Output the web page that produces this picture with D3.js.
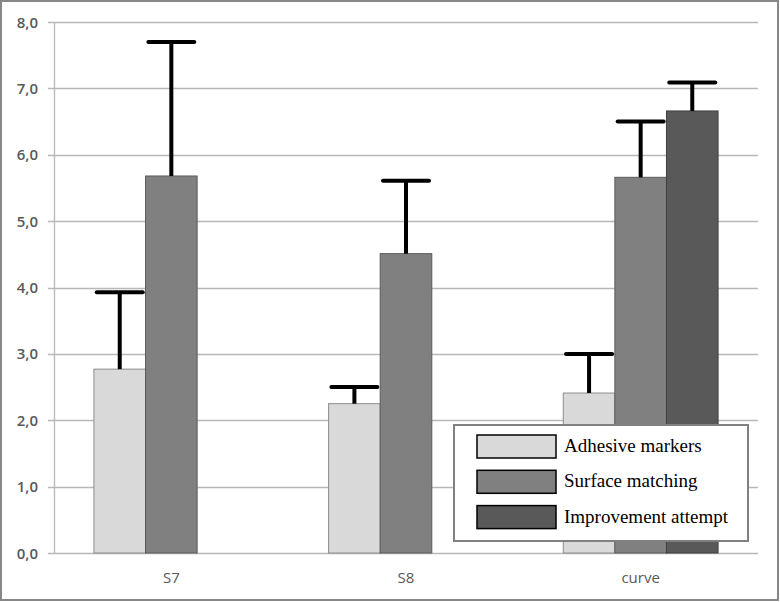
<!DOCTYPE html>
<html><head><meta charset="utf-8">
<script src="https://cdn.jsdelivr.net/npm/d3@7"></script>
<style>body{margin:0;background:#fff}svg{display:block}</style>
</head><body>
<script>
const categories = ["S7", "S8", "curve"];
const series = ["Adhesive markers", "Surface matching", "Improvement attempt"];
const adhesive = [2.77, 2.25, 2.41];
const adhesiveErr = [1.16, 0.25, 0.59];
const surface = [5.68, 4.51, 5.66];
const surfaceErr = [2.02, 1.10, 0.84];
const improvement = [null, null, 6.66];
const improvementErr = [null, null, 0.43];
const yTicks = [0, 1, 2, 3, 4, 5, 6, 7, 8];
const colors = ["#d9d9d9", "#808080", "#595959"];
const strokes = ["#8c8c8c", "#5a5a5a", "#404040"];

const W = 780, H = 602;
const m = {left: 54, right: 22, top: 22, bottom: 49};
const svg = d3.select("body").append("svg").attr("width", W).attr("height", H);
svg.append("rect").attr("x", 1).attr("y", 1).attr("width", W - 3).attr("height", H - 3)
  .attr("fill", "#fff").attr("stroke", "#878787").attr("stroke-width", 2);

const y = d3.scaleLinear().domain([0, 8]).range([H - m.bottom, m.top]);
const x0 = d3.scaleBand().domain(categories).range([m.left, W - m.right]).padding(0);
const x1 = d3.scaleBand().domain(series).range([0, x0.bandwidth()]).paddingInner(0).paddingOuter(0.774);

// gridlines
svg.append("g").selectAll("line").data(yTicks).join("line")
  .attr("x1", m.left - 6).attr("x2", W - m.right)
  .attr("y1", d => Math.round(y(d)) + 0.5).attr("y2", d => Math.round(y(d)) + 0.5)
  .attr("stroke", "#b8b8b8").attr("stroke-width", 1.3);
// y axis line
svg.append("line").attr("x1", m.left + 0.5).attr("x2", m.left + 0.5)
  .attr("y1", y(8)).attr("y2", y(0)).attr("stroke", "#b8b8b8").attr("stroke-width", 1.3);

const fmt = d => d.toFixed(1).replace(".", ",");
svg.append("g").selectAll("text").data(yTicks).join("text")
  .attr("x", 38).attr("y", d => y(d) + 5.5).attr("text-anchor", "end")
  .attr("font-family", "Open Sans, sans-serif").attr("font-size", 15).attr("font-weight", 600)
  .attr("fill", "#595959").text(fmt);

svg.append("g").selectAll("text").data(categories).join("text")
  .attr("x", d => x0(d) + x0.bandwidth() / 2).attr("y", 583).attr("text-anchor", "middle")
  .attr("font-family", "Open Sans, sans-serif").attr("font-size", 15).attr("font-weight", 500)
  .attr("fill", "#595959").text(d => d);

const vals = [adhesive, surface, improvement];
const errs = [adhesiveErr, surfaceErr, improvementErr];
const data = [];
categories.forEach((c, i) => series.forEach((s, j) => {
  if (vals[j][i] != null) data.push({c, s, j, v: vals[j][i], e: errs[j][i]});
}));

svg.append("g").selectAll("rect").data(data).join("rect")
  .attr("x", d => x0(d.c) + x1(d.s)).attr("width", x1.bandwidth())
  .attr("y", d => y(d.v)).attr("height", d => y(0) - y(d.v))
  .attr("fill", d => colors[d.j]).attr("stroke", d => strokes[d.j]).attr("stroke-width", 1);

const eg = svg.append("g").attr("stroke", "#000").attr("stroke-width", 4);
data.forEach(d => {
  const cx = x0(d.c) + x1(d.s) + x1.bandwidth() / 2;
  eg.append("line").attr("x1", cx).attr("x2", cx).attr("y1", y(d.v)).attr("y2", y(d.v + d.e));
  eg.append("line").attr("x1", cx - 23).attr("x2", cx + 23).attr("y1", y(d.v + d.e)).attr("y2", y(d.v + d.e))
    .attr("stroke-linecap", "round");
});

// legend
const lg = svg.append("g");
lg.append("rect").attr("x", 454).attr("y", 425).attr("width", 294).attr("height", 116)
  .attr("fill", "#fff").attr("stroke", "#808080").attr("stroke-width", 2);
series.forEach((s, i) => {
  const ry = 435 + i * 35.3;
  lg.append("rect").attr("x", 477).attr("y", ry).attr("width", 79).attr("height", 23)
    .attr("fill", colors[i]).attr("stroke", "#000").attr("stroke-width", 1.5);
  lg.append("text").attr("x", 564).attr("y", ry + 17).attr("font-family", "Liberation Serif, serif")
    .attr("font-size", 19).attr("fill", "#000").text(s);
});
</script>
</body></html>
